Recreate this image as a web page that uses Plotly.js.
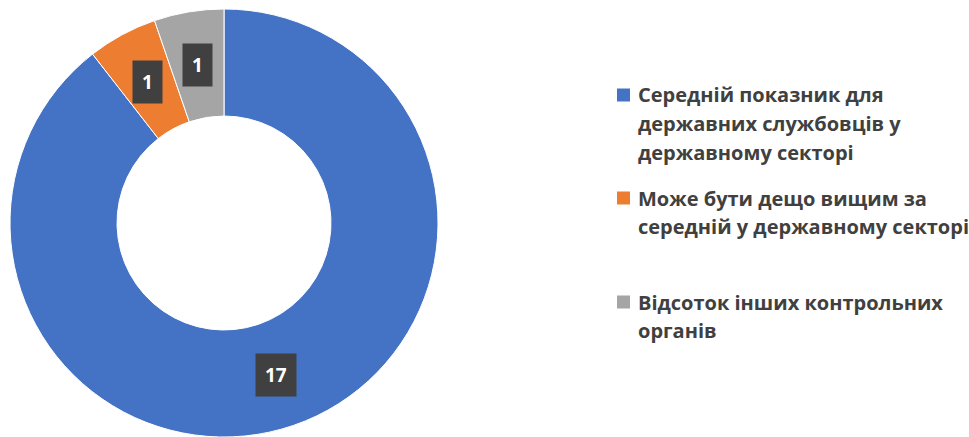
<!DOCTYPE html>
<html><head><meta charset="utf-8">
<script src="https://cdn.plot.ly/plotly-3.0.1.min.js"></script>
<style>html,body{margin:0;padding:0;background:#fff;}#chart{width:969px;height:437px;}</style>
</head><body><div id="chart"></div>
<script>
// ---- data ----
const categories = [
  'Середній показник для\nдержавних службовців у\nдержавному секторі',
  'Може бути дещо вищим за\nсередній у державному секторі',
  'Відсоток інших контрольних\nорганів'
];
const values = [17, 1, 1];
const colors = ['#4472C4', '#ED7D31', '#A5A5A5'];

// ---- layout geometry ----
const W = 969, H = 437;
const domX = [10 / W, 438 / W], domY = [0, 428 / H];
const hole = 0.5;
const FONT = '"Open Sans", "DejaVu Sans", sans-serif';

const cxPx = (domX[0] + domX[1]) / 2 * W;
const cyPx = (domY[0] + domY[1]) / 2 * H; // from bottom
const R = Math.min((domX[1] - domX[0]) * W, (domY[1] - domY[0]) * H) / 2;
const rMid = R * (1 + hole) / 2;

const total = values.reduce((a, b) => a + b, 0);
const annotations = [];
let cum = 0;
values.forEach((v, i) => {
  const mid = (cum + v / 2) / total * 2 * Math.PI; // clockwise from top
  cum += v;
  annotations.push({
    xref: 'paper', yref: 'paper',
    x: (cxPx + rMid * Math.sin(mid)) / W,
    y: (cyPx + rMid * Math.cos(mid)) / H,
    text: '<b>' + v + '</b>', showarrow: false,
    font: {family: FONT, size: 19, color: '#FFFFFF'},
    bgcolor: '#404040', borderpad: 9, height: 24,
    xanchor: 'center', yanchor: 'middle'
  });
});

// legend drawn as text lines + squares
const itemTop = [95, 198, 302];
const lineGap = 28.5;
const shapes = [];
categories.forEach((c, i) => {
  const lines = c.split('\n');
  lines.forEach((ln, j) => {
    annotations.push({
      xref: 'paper', yref: 'paper',
      x: 636 / W, y: 1 - (itemTop[i] + j * lineGap) / H,
      xanchor: 'left', yanchor: 'middle', showarrow: false,
      text: '<b>' + ln + '</b>',
      font: {family: FONT, size: 20, color: '#404040'}
    });
  });
  shapes.push({
    type: 'rect', xref: 'paper', yref: 'paper',
    x0: 617 / W, x1: 630 / W,
    y0: 1 - (itemTop[i] + 6.5) / H, y1: 1 - (itemTop[i] - 6.5) / H,
    fillcolor: colors[i], line: {width: 0}
  });
});

const trace = {
  type: 'pie',
  labels: categories.map(c => c.replace(/\n/g, ' ')),
  values: values,
  hole: hole,
  sort: false,
  direction: 'clockwise',
  rotation: 0,
  textinfo: 'none',
  marker: {colors: colors, line: {color: '#FFFFFF', width: 1}},
  domain: {x: domX, y: domY},
  hoverinfo: 'label+value'
};

const layout = {
  width: W, height: H,
  margin: {l: 0, r: 0, t: 0, b: 0},
  paper_bgcolor: '#FFFFFF',
  showlegend: false,
  annotations: annotations,
  shapes: shapes,
  font: {family: FONT}
};

Plotly.newPlot('chart', [trace], layout, {displayModeBar: false, staticPlot: true});
</script>
</body></html>
